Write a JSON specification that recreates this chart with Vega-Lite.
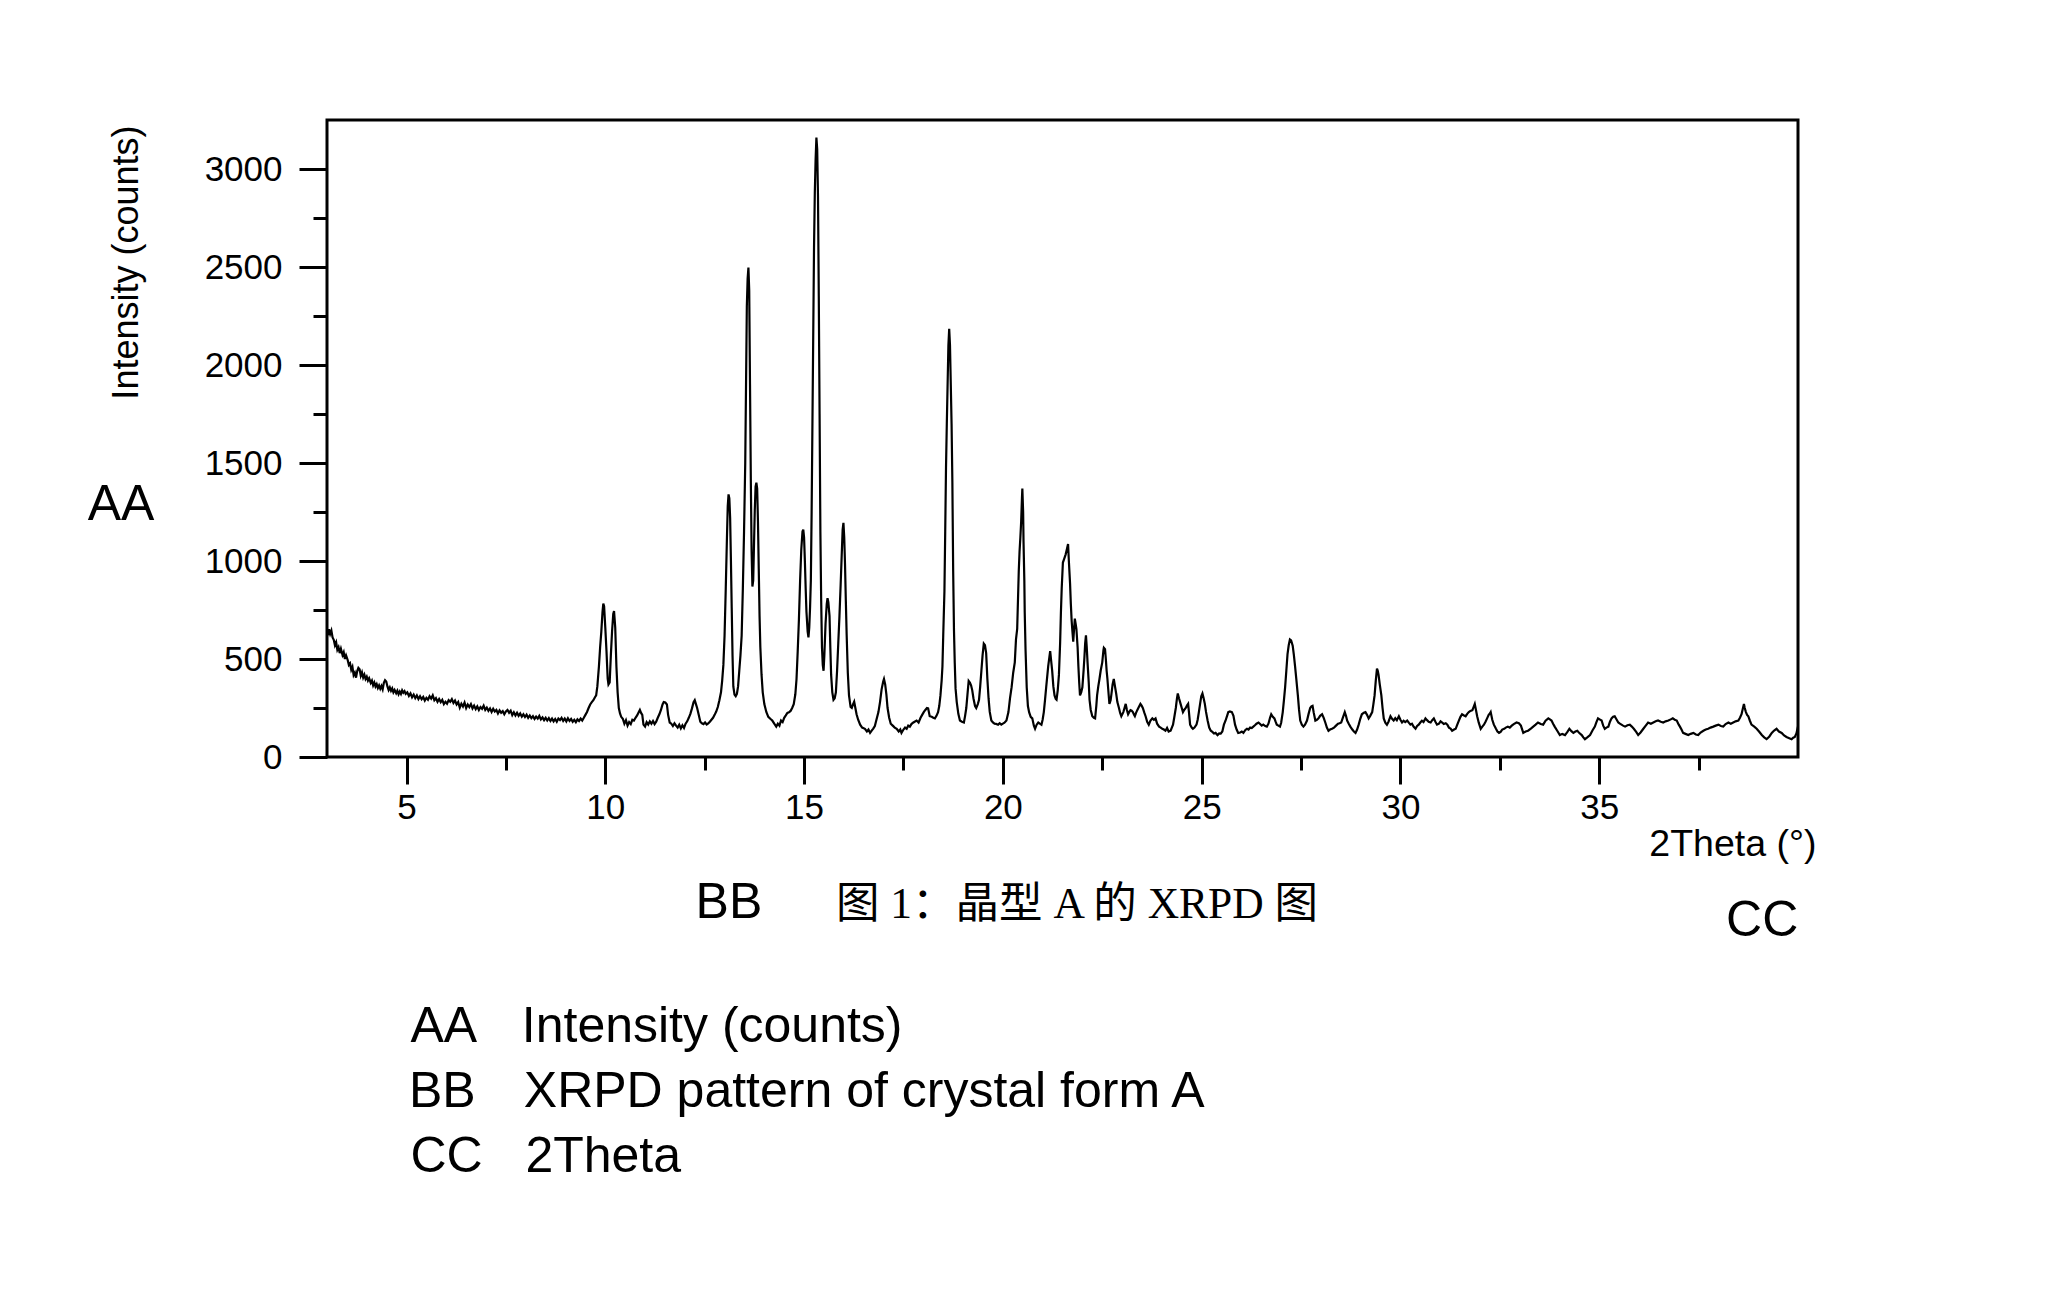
{
"$schema": "https://vega.github.io/schema/vega-lite/v6.json",
"width": 1471, "height": 637,
"autosize": "none",
"padding": {"left": 327, "top": 120, "right": 270, "bottom": 557},
"background": "white",
"config": {"view": {"stroke": "black", "strokeWidth": 3}, "font": "Liberation Sans"},
"datasets": {
"xrpd": [
{"t":3.00,"c":640},{"t":3.03,"c":622},{"t":3.05,"c":652},{"t":3.08,"c":628},{"t":3.11,"c":645},{"t":3.14,"c":610},{"t":3.17,"c":598},{"t":3.20,"c":570},{"t":3.23,"c":585},{"t":3.26,"c":547},{"t":3.29,"c":560},{"t":3.32,"c":530},{"t":3.35,"c":552},{"t":3.39,"c":520},{"t":3.42,"c":535},{"t":3.45,"c":500},{"t":3.48,"c":518},{"t":3.52,"c":495},{"t":3.55,"c":470},{"t":3.58,"c":478},{"t":3.61,"c":445},{"t":3.64,"c":460},{"t":3.67,"c":418},{"t":3.70,"c":430},{"t":3.73,"c":405},{"t":3.76,"c":438},{"t":3.79,"c":455},{"t":3.82,"c":448},{"t":3.85,"c":415},{"t":3.88,"c":432},{"t":3.91,"c":405},{"t":3.94,"c":420},{"t":3.97,"c":398},{"t":4.00,"c":410},{"t":4.03,"c":390},{"t":4.06,"c":402},{"t":4.10,"c":378},{"t":4.13,"c":390},{"t":4.16,"c":365},{"t":4.19,"c":380},{"t":4.22,"c":360},{"t":4.25,"c":372},{"t":4.28,"c":352},{"t":4.31,"c":365},{"t":4.34,"c":348},{"t":4.37,"c":362},{"t":4.40,"c":345},{"t":4.43,"c":378},{"t":4.46,"c":392},{"t":4.49,"c":385},{"t":4.52,"c":360},{"t":4.55,"c":342},{"t":4.58,"c":355},{"t":4.61,"c":338},{"t":4.64,"c":350},{"t":4.67,"c":330},{"t":4.70,"c":342},{"t":4.74,"c":325},{"t":4.77,"c":338},{"t":4.80,"c":320},{"t":4.83,"c":334},{"t":4.86,"c":322},{"t":4.89,"c":340},{"t":4.92,"c":328},{"t":4.95,"c":336},{"t":4.98,"c":322},
{"t":5.02,"c":330},{"t":5.06,"c":312},{"t":5.10,"c":325},{"t":5.14,"c":305},{"t":5.18,"c":318},{"t":5.22,"c":300},{"t":5.26,"c":314},{"t":5.30,"c":296},{"t":5.34,"c":310},{"t":5.38,"c":295},{"t":5.42,"c":306},{"t":5.46,"c":288},{"t":5.50,"c":302},{"t":5.54,"c":292},{"t":5.58,"c":310},{"t":5.62,"c":298},{"t":5.66,"c":314},{"t":5.70,"c":290},{"t":5.74,"c":300},{"t":5.78,"c":282},{"t":5.82,"c":296},{"t":5.86,"c":280},{"t":5.90,"c":292},{"t":5.94,"c":270},{"t":5.98,"c":282},{"t":6.02,"c":272},{"t":6.06,"c":290},{"t":6.10,"c":282},{"t":6.14,"c":295},{"t":6.18,"c":276},{"t":6.22,"c":288},{"t":6.26,"c":268},{"t":6.30,"c":280},{"t":6.34,"c":252},{"t":6.38,"c":272},{"t":6.42,"c":258},{"t":6.46,"c":278},{"t":6.50,"c":250},{"t":6.54,"c":268},{"t":6.58,"c":255},{"t":6.62,"c":270},{"t":6.66,"c":248},{"t":6.70,"c":262},{"t":6.74,"c":244},{"t":6.78,"c":258},{"t":6.82,"c":240},{"t":6.86,"c":255},{"t":6.90,"c":246},{"t":6.94,"c":262},{"t":6.98,"c":240},
{"t":7.02,"c":252},{"t":7.06,"c":236},{"t":7.10,"c":248},{"t":7.14,"c":230},{"t":7.18,"c":246},{"t":7.22,"c":232},{"t":7.26,"c":240},{"t":7.30,"c":222},{"t":7.34,"c":238},{"t":7.38,"c":226},{"t":7.42,"c":234},{"t":7.46,"c":218},{"t":7.50,"c":232},{"t":7.54,"c":240},{"t":7.58,"c":226},{"t":7.62,"c":236},{"t":7.66,"c":214},{"t":7.70,"c":228},{"t":7.74,"c":212},{"t":7.78,"c":226},{"t":7.82,"c":210},{"t":7.86,"c":222},{"t":7.90,"c":206},{"t":7.94,"c":218},{"t":7.98,"c":204},{"t":8.02,"c":216},{"t":8.06,"c":200},{"t":8.10,"c":212},{"t":8.14,"c":198},{"t":8.18,"c":208},{"t":8.22,"c":194},{"t":8.26,"c":206},{"t":8.30,"c":196},{"t":8.34,"c":210},{"t":8.38,"c":192},{"t":8.42,"c":202},{"t":8.46,"c":188},{"t":8.50,"c":200},{"t":8.54,"c":186},{"t":8.58,"c":198},{"t":8.62,"c":184},{"t":8.66,"c":196},{"t":8.70,"c":182},{"t":8.74,"c":194},{"t":8.78,"c":180},{"t":8.82,"c":196},{"t":8.86,"c":188},{"t":8.90,"c":200},{"t":8.94,"c":184},{"t":8.98,"c":196},
{"t":9.02,"c":182},{"t":9.06,"c":198},{"t":9.10,"c":184},{"t":9.14,"c":194},{"t":9.18,"c":180},{"t":9.22,"c":190},{"t":9.26,"c":178},{"t":9.30,"c":192},{"t":9.34,"c":184},{"t":9.38,"c":196},{"t":9.42,"c":186},{"t":9.46,"c":200},{"t":9.50,"c":215},{"t":9.54,"c":230},{"t":9.58,"c":250},{"t":9.62,"c":268},{"t":9.66,"c":280},{"t":9.70,"c":290},{"t":9.74,"c":305},{"t":9.77,"c":314},{"t":9.80,"c":360},{"t":9.84,"c":462},{"t":9.87,"c":560},{"t":9.90,"c":640},{"t":9.93,"c":740},{"t":9.95,"c":783},{"t":9.97,"c":770},
{"t":10.00,"c":660},{"t":10.03,"c":540},{"t":10.06,"c":400},{"t":10.08,"c":370},{"t":10.11,"c":380},{"t":10.14,"c":520},{"t":10.17,"c":640},{"t":10.20,"c":730},{"t":10.22,"c":745},{"t":10.25,"c":660},{"t":10.28,"c":460},{"t":10.31,"c":330},{"t":10.34,"c":250},{"t":10.37,"c":222},{"t":10.40,"c":205},{"t":10.44,"c":195},{"t":10.48,"c":170},{"t":10.52,"c":188},{"t":10.56,"c":160},{"t":10.60,"c":178},{"t":10.64,"c":168},{"t":10.68,"c":190},{"t":10.72,"c":186},{"t":10.76,"c":200},{"t":10.80,"c":212},{"t":10.84,"c":228},{"t":10.87,"c":240},{"t":10.90,"c":225},{"t":10.93,"c":215},{"t":10.96,"c":165},
{"t":11.00,"c":155},{"t":11.04,"c":178},{"t":11.08,"c":166},{"t":11.12,"c":182},{"t":11.16,"c":170},{"t":11.20,"c":184},{"t":11.24,"c":168},{"t":11.28,"c":180},{"t":11.32,"c":200},{"t":11.36,"c":218},{"t":11.40,"c":240},{"t":11.44,"c":268},{"t":11.47,"c":280},{"t":11.51,"c":278},{"t":11.55,"c":268},{"t":11.58,"c":215},{"t":11.62,"c":176},{"t":11.66,"c":170},{"t":11.70,"c":158},{"t":11.74,"c":172},{"t":11.78,"c":160},{"t":11.82,"c":150},{"t":11.86,"c":165},{"t":11.90,"c":146},{"t":11.94,"c":162},{"t":11.98,"c":148},
{"t":12.02,"c":170},{"t":12.06,"c":182},{"t":12.10,"c":200},{"t":12.14,"c":220},{"t":12.18,"c":248},{"t":12.22,"c":280},{"t":12.25,"c":290},{"t":12.28,"c":270},{"t":12.31,"c":250},{"t":12.35,"c":215},{"t":12.39,"c":180},{"t":12.43,"c":172},{"t":12.47,"c":168},{"t":12.51,"c":176},{"t":12.55,"c":166},{"t":12.59,"c":172},{"t":12.63,"c":180},{"t":12.67,"c":190},{"t":12.71,"c":200},{"t":12.75,"c":215},{"t":12.79,"c":232},{"t":12.83,"c":255},{"t":12.87,"c":290},{"t":12.91,"c":330},{"t":12.94,"c":390},{"t":12.97,"c":470},
{"t":13.00,"c":620},{"t":13.03,"c":860},{"t":13.06,"c":1120},{"t":13.08,"c":1280},{"t":13.10,"c":1340},{"t":13.12,"c":1320},{"t":13.14,"c":1220},{"t":13.16,"c":1000},{"t":13.18,"c":760},{"t":13.20,"c":520},{"t":13.22,"c":360},{"t":13.25,"c":318},{"t":13.28,"c":310},{"t":13.31,"c":322},{"t":13.34,"c":360},{"t":13.37,"c":440},{"t":13.40,"c":520},{"t":13.43,"c":620},{"t":13.46,"c":860},{"t":13.49,"c":1150},{"t":13.52,"c":1500},{"t":13.54,"c":1900},{"t":13.56,"c":2300},{"t":13.58,"c":2440},{"t":13.60,"c":2497},{"t":13.62,"c":2380},{"t":13.64,"c":1900},{"t":13.66,"c":1420},{"t":13.68,"c":1050},{"t":13.70,"c":870},{"t":13.72,"c":900},{"t":13.74,"c":1080},{"t":13.76,"c":1260},{"t":13.78,"c":1380},{"t":13.80,"c":1400},{"t":13.82,"c":1370},{"t":13.84,"c":1200},{"t":13.86,"c":960},{"t":13.88,"c":720},{"t":13.90,"c":560},{"t":13.93,"c":420},{"t":13.96,"c":330},
{"t":14.00,"c":270},{"t":14.05,"c":230},{"t":14.10,"c":205},{"t":14.15,"c":195},{"t":14.20,"c":186},{"t":14.25,"c":170},{"t":14.30,"c":155},{"t":14.34,"c":170},{"t":14.38,"c":160},{"t":14.42,"c":186},{"t":14.46,"c":178},{"t":14.50,"c":200},{"t":14.54,"c":212},{"t":14.58,"c":225},{"t":14.62,"c":228},{"t":14.66,"c":235},{"t":14.70,"c":250},{"t":14.74,"c":270},{"t":14.78,"c":320},{"t":14.81,"c":398},{"t":14.84,"c":540},{"t":14.87,"c":700},{"t":14.90,"c":900},{"t":14.93,"c":1060},{"t":14.96,"c":1150},{"t":14.98,"c":1160},
{"t":15.00,"c":1120},{"t":15.02,"c":1000},{"t":15.04,"c":860},{"t":15.06,"c":740},{"t":15.09,"c":640},{"t":15.11,"c":610},{"t":15.13,"c":660},{"t":15.15,"c":760},{"t":15.17,"c":900},{"t":15.19,"c":1250},{"t":15.21,"c":1700},{"t":15.23,"c":2150},{"t":15.25,"c":2600},{"t":15.27,"c":2880},{"t":15.29,"c":3050},{"t":15.31,"c":3160},{"t":15.33,"c":3100},{"t":15.35,"c":2860},{"t":15.37,"c":2350},{"t":15.39,"c":1750},{"t":15.41,"c":1150},{"t":15.43,"c":800},{"t":15.45,"c":560},{"t":15.47,"c":470},{"t":15.49,"c":440},{"t":15.51,"c":520},{"t":15.54,"c":680},{"t":15.57,"c":780},{"t":15.59,"c":810},{"t":15.61,"c":790},{"t":15.64,"c":720},{"t":15.66,"c":560},{"t":15.68,"c":420},{"t":15.71,"c":330},{"t":15.74,"c":292},{"t":15.77,"c":300},{"t":15.80,"c":330},{"t":15.83,"c":440},{"t":15.86,"c":580},{"t":15.89,"c":720},{"t":15.92,"c":880},{"t":15.95,"c":1050},{"t":15.97,"c":1160},{"t":15.99,"c":1195},
{"t":16.01,"c":1120},{"t":16.03,"c":980},{"t":16.05,"c":800},{"t":16.07,"c":630},{"t":16.10,"c":430},{"t":16.13,"c":314},{"t":16.17,"c":255},{"t":16.20,"c":250},{"t":16.23,"c":268},{"t":16.26,"c":282},{"t":16.29,"c":250},{"t":16.32,"c":218},{"t":16.36,"c":190},{"t":16.41,"c":165},{"t":16.46,"c":150},{"t":16.53,"c":144},{"t":16.58,"c":130},{"t":16.62,"c":140},{"t":16.66,"c":123},{"t":16.70,"c":135},{"t":16.74,"c":145},{"t":16.78,"c":158},{"t":16.82,"c":190},{"t":16.87,"c":229},{"t":16.91,"c":280},{"t":16.95,"c":345},{"t":16.99,"c":385},
{"t":17.01,"c":398},{"t":17.04,"c":370},{"t":17.07,"c":320},{"t":17.10,"c":250},{"t":17.14,"c":200},{"t":17.18,"c":170},{"t":17.23,"c":160},{"t":17.28,"c":150},{"t":17.33,"c":144},{"t":17.38,"c":130},{"t":17.42,"c":140},{"t":17.45,"c":123},{"t":17.50,"c":140},{"t":17.54,"c":150},{"t":17.58,"c":144},{"t":17.62,"c":160},{"t":17.66,"c":155},{"t":17.70,"c":168},{"t":17.74,"c":175},{"t":17.78,"c":180},{"t":17.83,"c":186},{"t":17.88,"c":176},{"t":17.93,"c":200},{"t":17.97,"c":215},
{"t":18.01,"c":229},{"t":18.05,"c":240},{"t":18.09,"c":250},{"t":18.12,"c":248},{"t":18.16,"c":208},{"t":18.21,"c":205},{"t":18.25,"c":200},{"t":18.29,"c":197},{"t":18.33,"c":210},{"t":18.37,"c":229},{"t":18.40,"c":260},{"t":18.43,"c":314},{"t":18.46,"c":390},{"t":18.48,"c":462},{"t":18.50,"c":620},{"t":18.53,"c":843},{"t":18.55,"c":1150},{"t":18.57,"c":1479},{"t":18.59,"c":1700},{"t":18.61,"c":1900},{"t":18.63,"c":2100},{"t":18.65,"c":2185},{"t":18.67,"c":2100},{"t":18.69,"c":1900},{"t":18.71,"c":1700},{"t":18.73,"c":1400},{"t":18.75,"c":949},{"t":18.77,"c":650},{"t":18.79,"c":480},{"t":18.81,"c":350},{"t":18.84,"c":280},{"t":18.88,"c":220},{"t":18.92,"c":186},{"t":18.97,"c":180},
{"t":19.02,"c":176},{"t":19.05,"c":210},{"t":19.08,"c":250},{"t":19.11,"c":320},{"t":19.14,"c":388},{"t":19.17,"c":380},{"t":19.20,"c":366},{"t":19.23,"c":340},{"t":19.26,"c":300},{"t":19.30,"c":260},{"t":19.33,"c":250},{"t":19.37,"c":270},{"t":19.40,"c":292},{"t":19.43,"c":360},{"t":19.46,"c":440},{"t":19.49,"c":520},{"t":19.52,"c":578},{"t":19.55,"c":570},{"t":19.58,"c":530},{"t":19.61,"c":400},{"t":19.64,"c":300},{"t":19.67,"c":230},{"t":19.71,"c":186},{"t":19.75,"c":176},{"t":19.79,"c":170},{"t":19.83,"c":169},{"t":19.88,"c":165},{"t":19.92,"c":172},{"t":19.96,"c":165},
{"t":20.00,"c":170},{"t":20.04,"c":175},{"t":20.09,"c":186},{"t":20.14,"c":229},{"t":20.18,"c":300},{"t":20.22,"c":356},{"t":20.26,"c":430},{"t":20.30,"c":483},{"t":20.33,"c":600},{"t":20.36,"c":653},{"t":20.38,"c":800},{"t":20.40,"c":949},{"t":20.42,"c":1050},{"t":20.44,"c":1119},{"t":20.46,"c":1200},{"t":20.48,"c":1320},{"t":20.49,"c":1370},{"t":20.51,"c":1250},{"t":20.52,"c":1097},{"t":20.54,"c":900},{"t":20.55,"c":737},{"t":20.57,"c":550},{"t":20.60,"c":356},{"t":20.63,"c":260},{"t":20.66,"c":229},{"t":20.70,"c":205},{"t":20.74,"c":197},{"t":20.78,"c":160},{"t":20.81,"c":144},{"t":20.85,"c":165},{"t":20.89,"c":176},{"t":20.93,"c":170},{"t":20.97,"c":165},
{"t":21.00,"c":190},{"t":21.03,"c":229},{"t":21.06,"c":290},{"t":21.09,"c":356},{"t":21.12,"c":420},{"t":21.14,"c":462},{"t":21.17,"c":510},{"t":21.19,"c":540},{"t":21.21,"c":500},{"t":21.24,"c":441},{"t":21.27,"c":360},{"t":21.30,"c":314},{"t":21.33,"c":296},{"t":21.35,"c":292},{"t":21.38,"c":340},{"t":21.41,"c":419},{"t":21.44,"c":580},{"t":21.46,"c":737},{"t":21.48,"c":860},{"t":21.51,"c":992},{"t":21.54,"c":1010},{"t":21.58,"c":1034},{"t":21.61,"c":1060},{"t":21.64,"c":1087},{"t":21.66,"c":1000},{"t":21.69,"c":886},{"t":21.71,"c":780},{"t":21.73,"c":695},{"t":21.75,"c":640},{"t":21.77,"c":589},{"t":21.79,"c":650},{"t":21.81,"c":706},{"t":21.83,"c":680},{"t":21.85,"c":653},{"t":21.88,"c":560},{"t":21.90,"c":462},{"t":21.92,"c":380},{"t":21.94,"c":314},{"t":21.97,"c":330},
{"t":22.00,"c":356},{"t":22.03,"c":440},{"t":22.05,"c":504},{"t":22.07,"c":580},{"t":22.09,"c":621},{"t":22.11,"c":560},{"t":22.13,"c":483},{"t":22.16,"c":380},{"t":22.18,"c":292},{"t":22.21,"c":240},{"t":22.25,"c":208},{"t":22.29,"c":200},{"t":22.32,"c":197},{"t":22.35,"c":260},{"t":22.37,"c":314},{"t":22.40,"c":360},{"t":22.43,"c":398},{"t":22.46,"c":440},{"t":22.50,"c":483},{"t":22.53,"c":545},{"t":22.54,"c":557},{"t":22.57,"c":550},{"t":22.59,"c":500},{"t":22.61,"c":440},{"t":22.63,"c":398},{"t":22.66,"c":320},{"t":22.68,"c":271},{"t":22.71,"c":290},{"t":22.73,"c":320},{"t":22.76,"c":370},{"t":22.79,"c":398},{"t":22.82,"c":360},{"t":22.85,"c":324},{"t":22.88,"c":280},{"t":22.92,"c":250},{"t":22.95,"c":225},{"t":22.98,"c":208},
{"t":23.01,"c":220},{"t":23.03,"c":229},{"t":23.06,"c":250},{"t":23.09,"c":271},{"t":23.12,"c":240},{"t":23.15,"c":218},{"t":23.18,"c":230},{"t":23.21,"c":239},{"t":23.24,"c":236},{"t":23.27,"c":229},{"t":23.30,"c":215},{"t":23.32,"c":208},{"t":23.35,"c":225},{"t":23.38,"c":239},{"t":23.42,"c":255},{"t":23.46,"c":271},{"t":23.49,"c":262},{"t":23.52,"c":250},{"t":23.56,"c":225},{"t":23.59,"c":208},{"t":23.63,"c":180},{"t":23.67,"c":165},{"t":23.71,"c":185},{"t":23.76,"c":197},{"t":23.80,"c":190},{"t":23.84,"c":197},{"t":23.88,"c":170},{"t":23.93,"c":155},{"t":23.97,"c":150},
{"t":24.01,"c":144},{"t":24.05,"c":140},{"t":24.09,"c":134},{"t":24.13,"c":148},{"t":24.17,"c":130},{"t":24.22,"c":134},{"t":24.25,"c":150},{"t":24.28,"c":165},{"t":24.31,"c":200},{"t":24.35,"c":250},{"t":24.38,"c":300},{"t":24.40,"c":324},{"t":24.43,"c":300},{"t":24.47,"c":271},{"t":24.50,"c":250},{"t":24.53,"c":229},{"t":24.56,"c":240},{"t":24.60,"c":250},{"t":24.63,"c":262},{"t":24.66,"c":271},{"t":24.68,"c":230},{"t":24.71,"c":165},{"t":24.75,"c":150},{"t":24.78,"c":144},{"t":24.82,"c":150},{"t":24.87,"c":165},{"t":24.90,"c":190},{"t":24.93,"c":229},{"t":24.96,"c":270},{"t":24.99,"c":310},
{"t":25.02,"c":324},{"t":25.05,"c":300},{"t":25.08,"c":271},{"t":25.11,"c":230},{"t":25.15,"c":186},{"t":25.19,"c":150},{"t":25.23,"c":134},{"t":25.27,"c":128},{"t":25.31,"c":120},{"t":25.35,"c":123},{"t":25.40,"c":112},{"t":25.44,"c":120},{"t":25.48,"c":119},{"t":25.52,"c":130},{"t":25.56,"c":165},{"t":25.60,"c":185},{"t":25.64,"c":210},{"t":25.67,"c":229},{"t":25.71,"c":232},{"t":25.76,"c":229},{"t":25.80,"c":210},{"t":25.84,"c":165},{"t":25.88,"c":140},{"t":25.92,"c":123},{"t":25.97,"c":125},
{"t":26.01,"c":130},{"t":26.05,"c":123},{"t":26.10,"c":138},{"t":26.14,"c":144},{"t":26.18,"c":140},{"t":26.22,"c":150},{"t":26.26,"c":148},{"t":26.30,"c":155},{"t":26.34,"c":162},{"t":26.38,"c":170},{"t":26.43,"c":176},{"t":26.47,"c":168},{"t":26.51,"c":160},{"t":26.55,"c":165},{"t":26.60,"c":158},{"t":26.64,"c":155},{"t":26.68,"c":170},{"t":26.72,"c":200},{"t":26.75,"c":218},{"t":26.79,"c":205},{"t":26.83,"c":197},{"t":26.86,"c":180},{"t":26.89,"c":165},{"t":26.93,"c":160},{"t":26.97,"c":155},
{"t":27.00,"c":175},{"t":27.04,"c":229},{"t":27.07,"c":290},{"t":27.10,"c":356},{"t":27.13,"c":440},{"t":27.16,"c":525},{"t":27.19,"c":570},{"t":27.22,"c":600},{"t":27.25,"c":595},{"t":27.29,"c":568},{"t":27.32,"c":520},{"t":27.35,"c":462},{"t":27.38,"c":400},{"t":27.42,"c":314},{"t":27.45,"c":240},{"t":27.48,"c":186},{"t":27.52,"c":165},{"t":27.56,"c":155},{"t":27.60,"c":165},{"t":27.65,"c":186},{"t":27.69,"c":220},{"t":27.73,"c":250},{"t":27.76,"c":258},{"t":27.79,"c":261},{"t":27.82,"c":225},{"t":27.86,"c":186},{"t":27.90,"c":190},{"t":27.94,"c":197},{"t":27.98,"c":210},
{"t":28.03,"c":218},{"t":28.07,"c":200},{"t":28.11,"c":176},{"t":28.15,"c":150},{"t":28.19,"c":134},{"t":28.23,"c":140},{"t":28.28,"c":144},{"t":28.33,"c":150},{"t":28.38,"c":160},{"t":28.43,"c":170},{"t":28.47,"c":172},{"t":28.51,"c":176},{"t":28.55,"c":200},{"t":28.60,"c":229},{"t":28.63,"c":210},{"t":28.66,"c":186},{"t":28.70,"c":170},{"t":28.74,"c":155},{"t":28.79,"c":140},{"t":28.83,"c":130},{"t":28.87,"c":123},{"t":28.91,"c":140},{"t":28.95,"c":165},{"t":28.99,"c":195},
{"t":29.03,"c":218},{"t":29.08,"c":226},{"t":29.12,"c":229},{"t":29.16,"c":215},{"t":29.20,"c":197},{"t":29.24,"c":210},{"t":29.29,"c":229},{"t":29.32,"c":270},{"t":29.35,"c":314},{"t":29.38,"c":390},{"t":29.41,"c":451},{"t":29.43,"c":440},{"t":29.45,"c":419},{"t":29.48,"c":370},{"t":29.52,"c":314},{"t":29.55,"c":250},{"t":29.58,"c":197},{"t":29.62,"c":175},{"t":29.66,"c":165},{"t":29.70,"c":180},{"t":29.75,"c":208},{"t":29.79,"c":195},{"t":29.83,"c":186},{"t":29.87,"c":198},{"t":29.91,"c":188},{"t":29.96,"c":208},
{"t":30.00,"c":190},{"t":30.04,"c":176},{"t":30.08,"c":185},{"t":30.12,"c":178},{"t":30.17,"c":186},{"t":30.21,"c":175},{"t":30.25,"c":165},{"t":30.29,"c":170},{"t":30.33,"c":155},{"t":30.38,"c":144},{"t":30.42,"c":158},{"t":30.46,"c":165},{"t":30.50,"c":176},{"t":30.54,"c":185},{"t":30.58,"c":178},{"t":30.63,"c":197},{"t":30.67,"c":188},{"t":30.71,"c":180},{"t":30.76,"c":176},{"t":30.80,"c":188},{"t":30.84,"c":197},{"t":30.88,"c":180},{"t":30.92,"c":165},{"t":30.97,"c":170},
{"t":31.01,"c":182},{"t":31.05,"c":176},{"t":31.09,"c":168},{"t":31.14,"c":172},{"t":31.18,"c":165},{"t":31.22,"c":150},{"t":31.26,"c":145},{"t":31.30,"c":134},{"t":31.35,"c":140},{"t":31.39,"c":144},{"t":31.43,"c":165},{"t":31.47,"c":186},{"t":31.51,"c":205},{"t":31.55,"c":218},{"t":31.60,"c":212},{"t":31.64,"c":208},{"t":31.68,"c":220},{"t":31.72,"c":229},{"t":31.76,"c":235},{"t":31.81,"c":239},{"t":31.84,"c":255},{"t":31.87,"c":271},{"t":31.90,"c":240},{"t":31.93,"c":208},{"t":31.97,"c":175},
{"t":32.02,"c":144},{"t":32.06,"c":155},{"t":32.10,"c":165},{"t":32.14,"c":180},{"t":32.18,"c":197},{"t":32.22,"c":215},{"t":32.25,"c":222},{"t":32.27,"c":229},{"t":32.31,"c":190},{"t":32.35,"c":165},{"t":32.40,"c":145},{"t":32.44,"c":130},{"t":32.48,"c":123},{"t":32.52,"c":128},{"t":32.56,"c":140},{"t":32.61,"c":144},{"t":32.65,"c":150},{"t":32.70,"c":155},{"t":32.75,"c":150},{"t":32.80,"c":160},{"t":32.85,"c":168},{"t":32.92,"c":176},{"t":32.98,"c":172},
{"t":33.03,"c":160},{"t":33.09,"c":123},{"t":33.15,"c":130},{"t":33.21,"c":134},{"t":33.28,"c":145},{"t":33.34,"c":155},{"t":33.40,"c":165},{"t":33.46,"c":176},{"t":33.53,"c":168},{"t":33.59,"c":165},{"t":33.65,"c":185},{"t":33.72,"c":197},{"t":33.76,"c":192},{"t":33.80,"c":186},{"t":33.84,"c":170},{"t":33.88,"c":155},{"t":33.94,"c":135},
{"t":34.01,"c":112},{"t":34.07,"c":118},{"t":34.14,"c":112},{"t":34.20,"c":128},{"t":34.25,"c":144},{"t":34.30,"c":132},{"t":34.35,"c":123},{"t":34.40,"c":130},{"t":34.45,"c":134},{"t":34.50,"c":122},{"t":34.56,"c":112},{"t":34.60,"c":100},{"t":34.64,"c":91},{"t":34.70,"c":100},{"t":34.77,"c":112},{"t":34.83,"c":135},{"t":34.89,"c":155},{"t":34.93,"c":178},{"t":34.97,"c":197},
{"t":35.01,"c":192},{"t":35.06,"c":186},{"t":35.10,"c":160},{"t":35.14,"c":144},{"t":35.18,"c":150},{"t":35.23,"c":155},{"t":35.27,"c":180},{"t":35.31,"c":197},{"t":35.35,"c":205},{"t":35.39,"c":208},{"t":35.44,"c":190},{"t":35.48,"c":176},{"t":35.52,"c":170},{"t":35.56,"c":165},{"t":35.60,"c":160},{"t":35.65,"c":155},{"t":35.71,"c":162},{"t":35.77,"c":165},{"t":35.82,"c":155},{"t":35.87,"c":144},{"t":35.93,"c":128},{"t":35.98,"c":112},
{"t":36.04,"c":125},{"t":36.11,"c":144},{"t":36.17,"c":160},{"t":36.23,"c":176},{"t":36.30,"c":170},{"t":36.36,"c":176},{"t":36.42,"c":182},{"t":36.48,"c":186},{"t":36.55,"c":180},{"t":36.61,"c":176},{"t":36.67,"c":182},{"t":36.74,"c":186},{"t":36.80,"c":192},{"t":36.85,"c":197},{"t":36.90,"c":190},{"t":36.95,"c":186},
{"t":37.00,"c":165},{"t":37.03,"c":155},{"t":37.07,"c":140},{"t":37.11,"c":123},{"t":37.17,"c":118},{"t":37.24,"c":112},{"t":37.30,"c":118},{"t":37.37,"c":123},{"t":37.43,"c":115},{"t":37.49,"c":112},{"t":37.55,"c":125},{"t":37.62,"c":134},{"t":37.68,"c":140},{"t":37.74,"c":144},{"t":37.80,"c":150},{"t":37.87,"c":155},{"t":37.93,"c":160},
{"t":38.00,"c":165},{"t":38.06,"c":158},{"t":38.12,"c":155},{"t":38.18,"c":168},{"t":38.25,"c":176},{"t":38.31,"c":170},{"t":38.37,"c":176},{"t":38.43,"c":182},{"t":38.50,"c":186},{"t":38.54,"c":200},{"t":38.58,"c":218},{"t":38.61,"c":245},{"t":38.64,"c":271},{"t":38.66,"c":250},{"t":38.69,"c":229},{"t":38.72,"c":215},{"t":38.75,"c":208},{"t":38.79,"c":185},{"t":38.83,"c":165},{"t":38.90,"c":155},{"t":38.96,"c":144},
{"t":39.02,"c":130},{"t":39.09,"c":112},{"t":39.15,"c":100},{"t":39.21,"c":91},{"t":39.28,"c":105},{"t":39.34,"c":123},{"t":39.40,"c":135},{"t":39.46,"c":144},{"t":39.52,"c":130},{"t":39.59,"c":123},{"t":39.65,"c":110},{"t":39.71,"c":102},{"t":39.78,"c":96},{"t":39.84,"c":91},{"t":39.88,"c":98},{"t":39.92,"c":102},{"t":39.96,"c":120},{"t":40.00,"c":155}
],
"labels": [
{"t":-3.02,"c":1286,"s":"AA"},
{"t":12.27,"c":-745,"s":"BB"},
{"t":38.19,"c":-835,"s":"CC"},
{"t":5.10,"c":-1380,"s":"AA"},
{"t":7.90,"c":-1380,"s":"Intensity (counts)"},
{"t":5.06,"c":-1709,"s":"BB"},
{"t":7.95,"c":-1709,"s":"XRPD pattern of crystal form A"},
{"t":5.10,"c":-2039,"s":"CC"},
{"t":7.99,"c":-2039,"s":"2Theta"}
],
"caption": [
{"t":15.80,"c":-755,"s":"图 1：晶型 A 的 XRPD 图"}
]
},
"layer": [
{
"data": {"name": "xrpd"},
"mark": {"type": "line", "color": "black", "strokeWidth": 2.2},
"encoding": {
"x": {"field": "t", "type": "quantitative",
"scale": {"domain": [3, 40], "nice": false, "zero": false},
"axis": {"orient": "bottom", "values": [5,10,15,20,25,30,35], "domain": false, "grid": false,
"tickSize": 27, "tickWidth": 3, "tickColor": "black",
"labelFont": "Liberation Sans", "labelFontSize": 35, "labelColor": "black", "labelPadding": 6, "labelFlush": false, "labelOverlap": false,
"title": "2Theta (°)", "titleFont": "Liberation Sans", "titleFontSize": 37.5, "titleFontWeight": "normal", "titleColor": "black",
"titleX": 1489, "titleY": 87, "titleAlign": "right", "titleBaseline": "middle"}},
"y": {"field": "c", "type": "quantitative",
"scale": {"domain": [0, 3250], "nice": false, "zero": false},
"axis": {"orient": "left", "values": [0,500,1000,1500,2000,2500,3000], "format": "d", "domain": false, "grid": false,
"tickSize": 28, "tickWidth": 3, "tickColor": "black",
"labelFont": "Liberation Sans", "labelFontSize": 35, "labelColor": "black", "labelPadding": 17, "labelFlush": false, "labelOverlap": false,
"title": "Intensity (counts)", "titleFont": "Liberation Sans", "titleFontSize": 36, "titleFontWeight": "normal", "titleColor": "black",
"titleX": -201, "titleY": 5, "titleAngle": 270, "titleAlign": "right", "titleBaseline": "middle"}}
}
},
{
"data": {"name": "labels"},
"mark": {"type": "text", "font": "Liberation Sans", "fontSize": 50, "align": "left", "baseline": "middle", "color": "black"},
"encoding": {
"x": {"field": "t", "type": "quantitative", "scale": {"domain": [3, 40], "nice": false, "zero": false}, "axis": null},
"y": {"field": "c", "type": "quantitative", "scale": {"domain": [0, 3250], "nice": false, "zero": false}, "axis": null},
"text": {"field": "s"}
}
},
{
"data": {"name": "caption"},
"mark": {"type": "text", "font": "Liberation Serif, Noto Sans CJK SC", "fontSize": 43.5, "align": "left", "baseline": "middle", "color": "black"},
"encoding": {
"x": {"field": "t", "type": "quantitative", "scale": {"domain": [3, 40], "nice": false, "zero": false},
"axis": {"orient": "bottom", "values": [7.5,12.5,17.5,22.5,27.5,32.5,37.5], "domain": false, "grid": false, "labels": false,
"tickSize": 13, "tickWidth": 3, "tickColor": "black", "title": null}},
"y": {"field": "c", "type": "quantitative", "scale": {"domain": [0, 3250], "nice": false, "zero": false},
"axis": {"orient": "left", "values": [250,750,1250,1750,2250,2750], "domain": false, "grid": false, "labels": false,
"tickSize": 14, "tickWidth": 3, "tickColor": "black", "title": null}},
"text": {"field": "s"}
}
}
],
"resolve": {"axis": {"x": "independent", "y": "independent"}}
}
